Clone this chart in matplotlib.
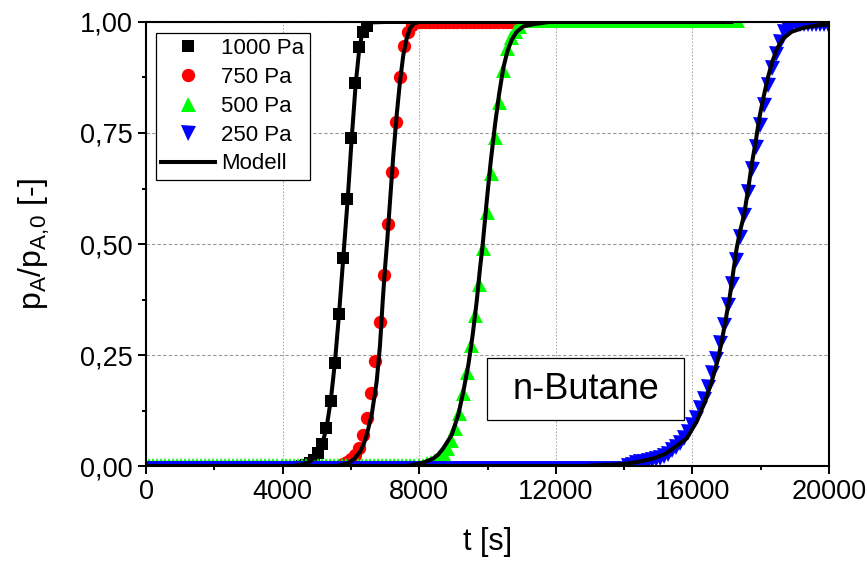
import numpy as np
import matplotlib

matplotlib.use("Agg")
import matplotlib.pyplot as plt
from matplotlib.lines import Line2D
from matplotlib.patches import Rectangle
from matplotlib.ticker import FuncFormatter, MultipleLocator

plt.rcParams["font.family"] = ["Liberation Sans", "DejaVu Sans"]
plt.rcParams["mathtext.fontset"] = "custom"
plt.rcParams["mathtext.rm"] = "Liberation Sans"

# breakthrough measurements, one sample every STEP seconds
# each series: first time, step, baseline level + count, rise values, plateau level + count
T0_1000, STEP_1000 = 5, 120
BASE_1000, NBASE_1000 = -0.008, 38
RISE_1000 = [0.0, 0.003, 0.006, 0.013, 0.029, 0.049, 0.086, 0.147, 0.233, 0.342,
             0.469, 0.601, 0.738, 0.863, 0.943, 0.978, 0.992]
TOP_1000, NTOP_1000 = 1.008, 54

T0_750, STEP_750 = 0, 120
BASE_750, NBASE_750 = -0.008, 48
RISE_750 = [0.004, 0.008, 0.015, 0.025, 0.041, 0.070, 0.109, 0.165, 0.236, 0.324,
            0.430, 0.544, 0.663, 0.775, 0.875, 0.947, 0.978, 0.993]
TOP_750, NTOP_750 = 1.0, 24

T0_500, STEP_500 = 74, 118
BASE_500, NBASE_500 = 0.003, 69
RISE_500 = [0.006, 0.009, 0.014, 0.020, 0.029, 0.040, 0.059, 0.085, 0.119, 0.164,
            0.212, 0.273, 0.340, 0.411, 0.490, 0.573, 0.659, 0.742, 0.820, 0.892,
            0.941, 0.967, 0.980, 0.990]
TOP_500, NTOP_500 = 1.005, 54

T0_250, STEP_250 = 74, 117
BASE_250, NBASE_250 = -0.006, 120
RISE_250 = [0.000, 0.003, 0.006, 0.008, 0.010, 0.012, 0.014, 0.016, 0.019, 0.023,
            0.028, 0.035, 0.042, 0.052, 0.064, 0.076, 0.092, 0.109, 0.130, 0.152,
            0.179, 0.209, 0.241, 0.276, 0.318, 0.363, 0.411, 0.464, 0.516, 0.565,
            0.618, 0.669, 0.719, 0.768, 0.813, 0.858, 0.896, 0.929, 0.956, 0.978,
            0.985]
TOP_250, NTOP_250 = 0.995, 10

# model curves (t in s, p/p0)
MODEL_1000_T = [0, 4300, 4600, 4800, 4950, 5050, 5170, 5290, 5410, 5530, 5650, 5777,
                5905, 6023, 6140, 6246, 6330, 6420, 6550, 7000, 13500]
MODEL_1000_Y = [0.0, 0.0, 0.004, 0.010, 0.020, 0.032, 0.052, 0.088, 0.148, 0.232,
                0.340, 0.470, 0.600, 0.738, 0.860, 0.940, 0.975, 0.992, 0.999, 1.0, 1.0]

MODEL_750_T = [0, 5600, 5900, 6100, 6266, 6370, 6462, 6608, 6754, 6852, 6930, 6998,
               7066, 7144, 7242, 7340, 7437, 7535, 7633, 7730, 7850, 8000, 10600]
MODEL_750_Y = [0.0, 0.0, 0.006, 0.016, 0.032, 0.048, 0.070, 0.115, 0.190, 0.272,
               0.370, 0.445, 0.510, 0.595, 0.700, 0.790, 0.866, 0.926, 0.963, 0.986,
               0.997, 1.0, 1.0]

MODEL_500_T = [0, 7600, 7780, 8023, 8200, 8413, 8560, 8706, 8950, 9144, 9290, 9437,
               9565, 9682, 9780, 9858, 9975, 10093, 10219, 10336, 10462, 10579,
               10707, 10854, 11049, 11342, 11800, 17200]
MODEL_500_Y = [0.0, 0.0, 0.002, 0.006, 0.010, 0.017, 0.026, 0.040, 0.070, 0.115,
               0.167, 0.227, 0.295, 0.370, 0.445, 0.498, 0.595, 0.685, 0.768, 0.836,
               0.896, 0.933, 0.960, 0.978, 0.990, 0.995, 1.0, 1.0]

MODEL_250_T = [0, 12800, 13265, 13879, 14400, 14855, 15200, 15440, 15831, 16124,
               16367, 16563, 16729, 16856, 16982, 17100, 17197, 17295, 17393, 17510,
               17636, 17734, 17852, 17958, 18075, 18204, 18339, 18485, 18660, 18906,
               19246, 19637, 20000]
MODEL_250_Y = [0.0, 0.0, 0.002, 0.004, 0.009, 0.017, 0.027, 0.040, 0.062, 0.100,
               0.145, 0.190, 0.235, 0.280, 0.333, 0.385, 0.438, 0.490, 0.528, 0.565,
               0.625, 0.678, 0.730, 0.783, 0.828, 0.873, 0.911, 0.941, 0.963, 0.978,
               0.987, 0.992, 0.995]

LABELS = ["1000 Pa", "750 Pa", "500 Pa", "250 Pa"]
MARKERS = ["s", "o", "^", "v"]
COLORS = ["#000000", "#ff0000", "#00ff00", "#0000ff"]
SIZES = [8.6, 9.6, 10.8, 10.8]


def series(t0, step, base, nbase, rise, top, ntop):
    y = [base] * nbase + list(rise) + [top] * ntop
    t = t0 + step * np.arange(len(y))
    return t, np.array(y)


data = [
    series(T0_1000, STEP_1000, BASE_1000, NBASE_1000, RISE_1000, TOP_1000, NTOP_1000),
    series(T0_750, STEP_750, BASE_750, NBASE_750, RISE_750, TOP_750, NTOP_750),
    series(T0_500, STEP_500, BASE_500, NBASE_500, RISE_500, TOP_500, NTOP_500),
    series(T0_250, STEP_250, BASE_250, NBASE_250, RISE_250, TOP_250, NTOP_250),
]
models = [
    (MODEL_1000_T, MODEL_1000_Y),
    (MODEL_750_T, MODEL_750_Y),
    (MODEL_500_T, MODEL_500_Y),
    (MODEL_250_T, MODEL_250_Y),
]

fig = plt.figure(figsize=(8.67, 5.61), dpi=100)
ax = fig.add_axes([0.1684, 0.1693, 0.7878, 0.7915])

for (t, y), marker, color, ms in zip(data, MARKERS, COLORS, SIZES):
    ax.plot(t, y, linestyle="none", marker=marker, ms=ms, color=color,
            markeredgewidth=0, zorder=2)
for t, y in models:
    ax.plot(t, y, color="black", lw=2.9, zorder=3, solid_capstyle="butt")

ax.set_xlim(0, 20000)
ax.set_ylim(0, 1.0)
ax.xaxis.set_major_locator(MultipleLocator(4000))
ax.xaxis.set_minor_locator(MultipleLocator(2000))
ax.yaxis.set_major_locator(MultipleLocator(0.25))
ax.yaxis.set_minor_locator(MultipleLocator(0.125))
ax.yaxis.set_major_formatter(FuncFormatter(lambda v, _: f"{v:.2f}".replace(".", ",")))

ax.tick_params(which="both", direction="out", width=1.4, labelsize=19.5, top=False, right=False)
ax.tick_params(which="major", length=6)
ax.tick_params(which="minor", length=3)
for s in ax.spines.values():
    s.set_linewidth(1.5)

ax.set_axisbelow(True)
ax.grid(axis="x", which="major", color="#aaaaaa", linestyle=(0, (1.5, 1.5)), lw=0.8)
ax.grid(axis="y", which="major", color="#999999", linestyle=(0, (3, 2)), lw=0.8)

ax.set_xlabel("t [s]", fontsize=22, labelpad=16)
ax.set_ylabel(r"p$_\mathregular{A}$/p$_\mathregular{A{,}0}$ [-]", fontsize=23, labelpad=20)

handles = [Line2D([], [], linestyle="none", marker=m, ms=s, color=c, markeredgewidth=0)
           for m, c, s in zip(MARKERS, COLORS, SIZES)]
handles.append(Line2D([], [], color="black", lw=2.9))
leg = ax.legend(handles, LABELS + ["Modell"], loc="upper left",
                bbox_to_anchor=(0.0142, 0.976), borderaxespad=0, fontsize=16,
                handlelength=2.4, handletextpad=0.3, labelspacing=0.35,
                borderpad=0.25, fancybox=False, edgecolor="black", framealpha=1)
leg.get_frame().set_linewidth(0.9)

# label box for the adsorbate
ax.add_patch(Rectangle((0.499, 0.1036), 0.289, 0.1394, transform=ax.transAxes,
                       facecolor="white", edgecolor="black", lw=0.9, zorder=4))
ax.text(0.6435, 0.173, "n-Butane", transform=ax.transAxes, fontsize=26,
        va="center", ha="center", zorder=5)

fig.savefig("out.png", dpi=100)
